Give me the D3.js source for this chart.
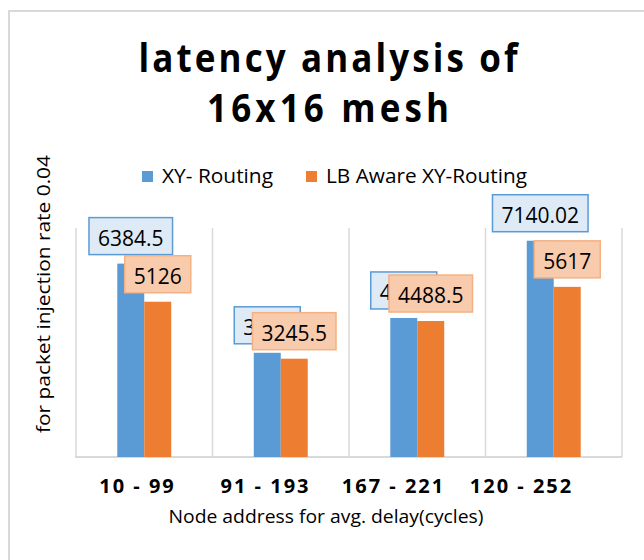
<!DOCTYPE html>
<html>
<head>
<meta charset="utf-8">
<script src="https://cdn.jsdelivr.net/npm/d3@7"></script>
<style>
  body { margin: 0; background: #fff; }
  text { font-family: "Open Sans", sans-serif; fill: #000; }
</style>
</head>
<body>
<div class="svg-container"></div>
<script>
const categories = ["10 - 99", "91 - 193", "167 - 221", "120 - 252"];
const seriesNames = ["XY- Routing", "LB Aware XY-Routing"];
const xyRouting = [6384.5, 3440, 4590, 7140.02];
const lbAwareRouting = [5126, 3245.5, 4488.5, 5617];
const titleLines = ["latency analysis of", "16x16 mesh"];
const xTitle = "Node address for avg. delay(cycles)";
const yTitle = "for packet injection rate 0.04";

const colors = ["#5B9BD5", "#ED7D31"];
const boxFill = ["#DEEBF7", "#F8CBAD"];
const boxStroke = ["#5B9BD5", "#F4B183"];

const width = 644, height = 560;
const plot = { left: 76, right: 622, top: 228, bottom: 457 };

const svg = d3.select("div.svg-container")
  .append("svg")
  .attr("width", width)
  .attr("height", height)
  .style("background-color", "#fff");

// chart frame
svg.append("rect")
  .attr("x", 9).attr("y", 11)
  .attr("width", 660).attr("height", 580)
  .attr("fill", "none")
  .attr("stroke", "#d9d9d9")
  .attr("stroke-width", 2);

const x = d3.scaleBand().domain(categories).range([plot.left, plot.right]);
const xSub = d3.scaleBand().domain(seriesNames).range([0, x.bandwidth()]).paddingOuter(1.53);
const y = d3.scaleLinear().domain([0, 7560]).range([plot.bottom, plot.top]);

// category separators (vertical gridlines)
svg.append("g")
  .attr("stroke", "#d9d9d9")
  .attr("stroke-width", 1.5)
  .selectAll("line")
  .data(categories.map((c) => x(c)).concat([plot.right]))
  .join("line")
  .attr("x1", (d) => d).attr("x2", (d) => d)
  .attr("y1", plot.top).attr("y2", plot.bottom);

// baseline
svg.append("line")
  .attr("x1", plot.left - 1).attr("x2", plot.right)
  .attr("y1", plot.bottom).attr("y2", plot.bottom)
  .attr("stroke", "#d9d9d9")
  .attr("stroke-width", 2);

const series = [xyRouting, lbAwareRouting].map((values, si) => ({
  name: seriesNames[si],
  si,
  points: values.map((v, i) => ({ cat: categories[i], value: v, si })),
}));

// bars
svg.append("g")
  .selectAll("g")
  .data(series)
  .join("g")
  .attr("fill", (s) => colors[s.si])
  .selectAll("rect")
  .data((s) => s.points)
  .join("rect")
  .attr("x", (d) => x(d.cat) + xSub(seriesNames[d.si]))
  .attr("width", xSub.bandwidth())
  .attr("y", (d) => y(d.value))
  .attr("height", (d) => y(0) - y(d.value));

// data labels with boxes (second series drawn on top, as in the original)
series.forEach((s) => {
  const g = svg.append("g")
    .selectAll("g")
    .data(s.points)
    .join("g")
    .attr("transform", (d) =>
      `translate(${x(d.cat) + xSub(seriesNames[d.si]) + xSub.bandwidth() / 2},${y(d.value) - 9})`);

  const rect = g.append("rect");
  const txt = g.append("text")
    .attr("text-anchor", "middle")
    .attr("y", -9)
    .attr("font-size", 21)
    .text((d) => String(d.value));

  txt.each(function (d) {
    d.w = this.getComputedTextLength() + 18;
  });
  rect
    .attr("x", (d) => -d.w / 2)
    .attr("y", -37)
    .attr("width", (d) => d.w)
    .attr("height", 37)
    .attr("fill", boxFill[s.si])
    .attr("stroke", boxStroke[s.si])
    .attr("stroke-width", 1.5);
});

// category tick labels (Excel placed them slightly left of the band centres)
const tickPos = d3.scalePoint().domain(categories).range([137, 521]);
svg.append("g")
  .attr("transform", `translate(0,${plot.bottom + 36})`)
  .call(d3.axisBottom(tickPos).tickSize(0).tickPadding(0))
  .call((g) => g.select(".domain").remove())
  .selectAll("text")
  .attr("dy", 0)
  .attr("font-family", "Open Sans, sans-serif")
  .attr("font-size", 20)
  .attr("font-weight", "bold")
  .attr("letter-spacing", 2)
  .attr("fill", "#000");

// title
svg.append("g")
  .attr("font-weight", "bold")
  .attr("text-anchor", "middle")
  .selectAll("text")
  .data(titleLines)
  .join("text")
  .attr("transform", (d, i) => `translate(328,${72 + i * 50}) scale(1,1.1)`)
  .attr("font-size", 35)
  .attr("textLength", (d, i) => [379, 242][i])
  .attr("lengthAdjust", "spacing")
  .text((d) => d);

// legend
const legend = svg.append("g")
  .selectAll("g")
  .data(seriesNames)
  .join("g")
  .attr("transform", (d, i) => `translate(${[142, 306][i]},171)`);
legend.append("rect")
  .attr("width", 11).attr("height", 11)
  .attr("fill", (d, i) => colors[i]);
legend.append("text")
  .attr("x", 20).attr("y", 12)
  .attr("font-size", 20)
  .attr("textLength", (d, i) => [111, 201][i])
  .attr("lengthAdjust", "spacingAndGlyphs")
  .text((d) => d);

// axis titles
svg.append("text")
  .attr("x", 326).attr("y", 523)
  .attr("text-anchor", "middle")
  .attr("font-size", 19)
  .attr("textLength", 315)
  .attr("lengthAdjust", "spacingAndGlyphs")
  .text(xTitle);

svg.append("text")
  .attr("transform", "translate(50,294) rotate(-90)")
  .attr("text-anchor", "middle")
  .attr("font-size", 19)
  .attr("textLength", 278)
  .attr("lengthAdjust", "spacingAndGlyphs")
  .text(yTitle);
</script>
</body>
</html>
